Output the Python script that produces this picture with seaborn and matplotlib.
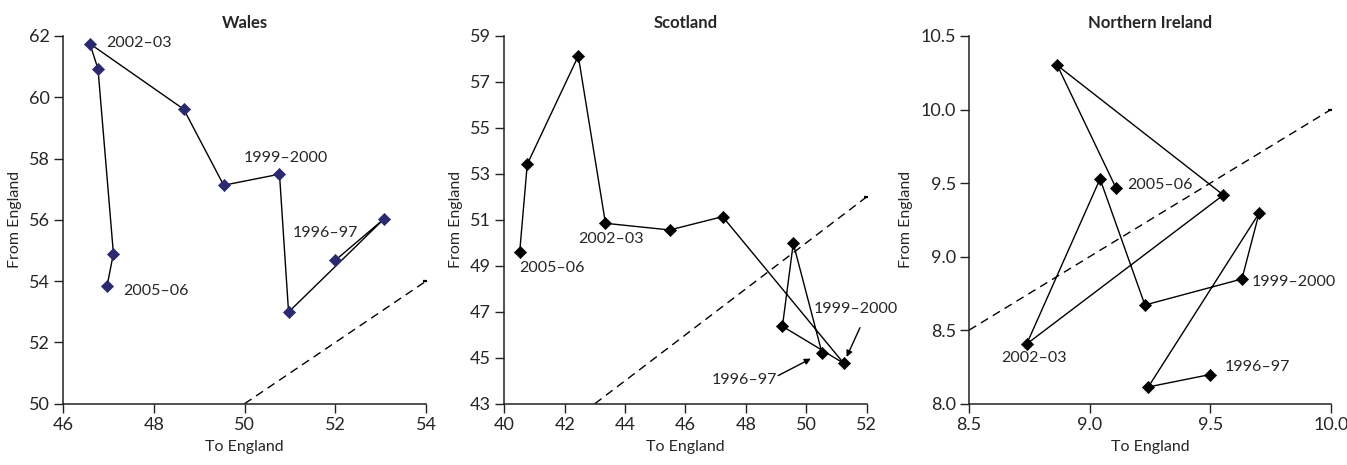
import matplotlib
matplotlib.use("Agg")
import matplotlib.pyplot as plt
import seaborn as sns
import pandas as pd

# Academic years, 1996-97 through 2005-06
years = ["1996–97", "1997–98", "1998–99", "1999–2000", "2000–01",
         "2001–02", "2002–03", "2003–04", "2004–05", "2005–06"]

# Wales: flows to and from England
wales_to = [52.00, 53.08, 50.97, 50.77, 49.54, 48.66, 46.59, 46.77, 47.11, 46.97]
wales_from = [54.68, 56.04, 52.99, 57.49, 57.13, 59.61, 61.75, 60.93, 54.90, 53.84]

# Scotland
scot_to = [50.52, 49.57, 49.21, 51.24, 47.23, 45.48, 43.35, 42.45, 40.76, 40.51]
scot_from = [45.21, 49.98, 46.37, 44.76, 51.14, 50.56, 50.85, 58.13, 53.42, 49.61]

# Northern Ireland
ni_to = [9.498, 9.243, 9.702, 9.631, 9.229, 9.043, 8.739, 9.554, 8.866, 9.109]
ni_from = [8.198, 8.114, 9.295, 8.848, 8.671, 9.528, 8.406, 9.419, 10.30, 9.467]

wales_xticks = [46, 48, 50, 52, 54]
wales_yticks = [50, 52, 54, 56, 58, 60, 62]
scot_xticks = [40, 42, 44, 46, 48, 50, 52]
scot_yticks = [43, 45, 47, 49, 51, 53, 55, 57, 59]
ni_xticks = [8.5, 9.0, 9.5, 10.0]
ni_yticks = [8.0, 8.5, 9.0, 9.5, 10.0, 10.5]

sns.set_theme(style="ticks")
plt.rcParams["font.family"] = ["Liberation Sans Narrow", "Lato", "DejaVu Sans"]
plt.rcParams["font.size"] = 10.5

fig = plt.figure(figsize=(13.47, 4.65), dpi=100)
ax_w = fig.add_axes([0.0468, 0.1318, 0.2695, 0.7908])
ax_s = fig.add_axes([0.3744, 0.1318, 0.2690, 0.7908])
ax_n = fig.add_axes([0.7194, 0.1318, 0.2687, 0.7908])


def panel(ax, to, frm, title, xticks, yticks, color, fmt):
    df = pd.DataFrame({"to": to, "from": frm, "year": years})
    sns.lineplot(data=df, x="to", y="from", sort=False, ax=ax,
                 color="black", lw=1.0, marker=None)
    sns.scatterplot(data=df, x="to", y="from", ax=ax, marker="D",
                    s=38, color=color, edgecolor=color, linewidth=0.5,
                    zorder=3)
    lo = max(xticks[0], yticks[0])
    hi = min(xticks[-1], yticks[-1])
    ax.plot([lo, hi], [lo, hi], ls=(0, (6, 4)), color="black", lw=1.0,
            marker="_", markevery=[1], ms=5, mew=1.6)
    ax.set_xlim(xticks[0], xticks[-1])
    ax.set_ylim(yticks[0], yticks[-1])
    ax.set_xticks(xticks)
    ax.set_yticks(yticks)
    ax.set_xticklabels([fmt.format(v) for v in xticks])
    ax.set_yticklabels([fmt.format(v) for v in yticks])
    ax.set_xlabel("To England", fontsize=11.5, labelpad=5)
    ax.set_ylabel("From England", fontsize=11.5, labelpad=5)
    ax.set_title(title, fontsize=12, fontweight="bold", pad=6)
    ax.tick_params(direction="out", length=6.5, width=1, labelsize=13,
                   color="#222222", pad=3)
    for side in ("top", "right"):
        ax.spines[side].set_visible(False)
    for side in ("left", "bottom"):
        ax.spines[side].set_color("#222222")
        ax.spines[side].set_linewidth(1.1)
    return df


def label(ax, to, frm, idx, dx, dy, ha="left"):
    ax.annotate(years[idx], xy=(to[idx], frm[idx]), xytext=(dx, dy),
                textcoords="offset points", ha=ha, va="center", fontsize=11.5)


def arrow(ax, to, frm, idx, dx, dy, shrink):
    ax.annotate("", xy=(to[idx], frm[idx]), xytext=(dx, dy),
                textcoords="offset points",
                arrowprops=dict(arrowstyle="-|>", color="black", lw=1.0,
                                shrinkA=0, shrinkB=shrink,
                                mutation_scale=9))


panel(ax_w, wales_to, wales_from, "Wales", wales_xticks, wales_yticks,
      "#2b2a6e", "{:g}")
label(ax_w, wales_to, wales_from, 6, 11.5, 0.5)
label(ax_w, wales_to, wales_from, 3, -26, 12)
label(ax_w, wales_to, wales_from, 0, -30.5, 19.5)
label(ax_w, wales_to, wales_from, 9, 11.5, -3.5)

panel(ax_s, scot_to, scot_from, "Scotland", scot_xticks, scot_yticks,
      "black", "{:g}")
label(ax_s, scot_to, scot_from, 6, 3.7, -11, ha="center")
label(ax_s, scot_to, scot_from, 9, -0.5, -11.5)
label(ax_s, scot_to, scot_from, 3, 9, 39, ha="center")
arrow(ax_s, scot_to, scot_from, 3, 11.7, 25.6, 5)
label(ax_s, scot_to, scot_from, 0, -56, -19.4, ha="center")
arrow(ax_s, scot_to, scot_from, 0, -31.5, -16.3, 9)

panel(ax_n, ni_to, ni_from, "Northern Ireland", ni_xticks, ni_yticks,
      "black", "{:.1f}")
label(ax_n, ni_to, ni_from, 9, 8.4, 2.2)
label(ax_n, ni_to, ni_from, 3, 7, -2)
label(ax_n, ni_to, ni_from, 6, 4.9, -10.3, ha="center")
label(ax_n, ni_to, ni_from, 0, 10.8, 5.8)

fig.savefig("out.png", dpi=100)
